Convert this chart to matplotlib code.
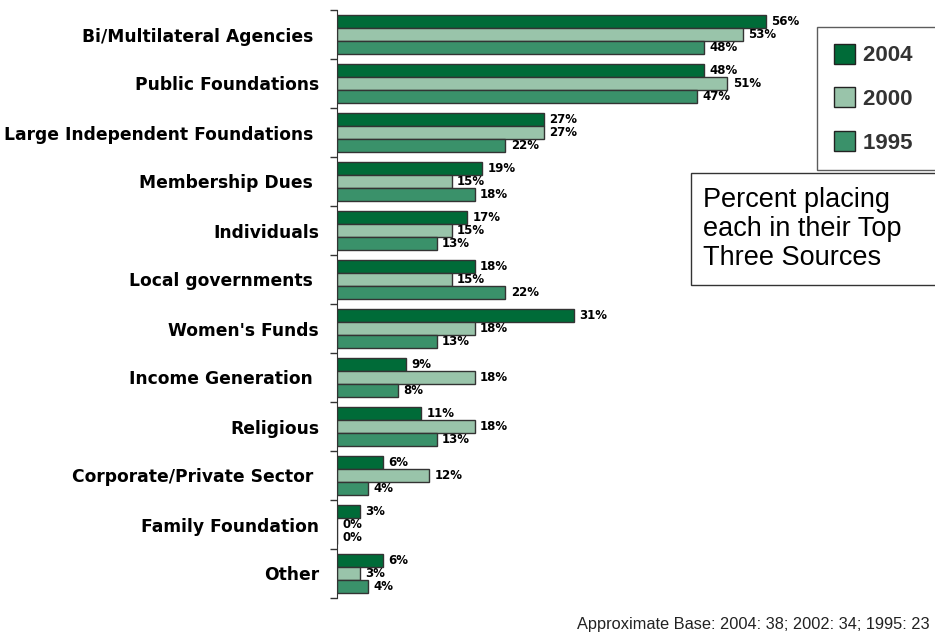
import matplotlib.pyplot as plt
from matplotlib.patches import Patch, Rectangle

plt.rcParams['font.family'] = ['Liberation Sans', 'DejaVu Sans']

categories = ["Bi/Multilateral Agencies ", "Public Foundations", "Large Independent Foundations ",
              "Membership Dues ", "Individuals", "Local governments ", "Women's Funds",
              "Income Generation ", "Religious", "Corporate/Private Sector ",
              "Family Foundation", "Other"]
years = ["2004", "2000", "1995"]
v2004 = [56, 48, 27, 19, 17, 18, 31, 9, 11, 6, 3, 6]
v2000 = [53, 51, 27, 15, 15, 15, 18, 18, 18, 12, 0, 3]
v1995 = [48, 47, 22, 18, 13, 22, 13, 8, 13, 4, 0, 4]
colors = ["#006B38", "#99C4AA", "#3A916A"]
footnote = "Approximate Base: 2004: 38; 2002: 34; 1995: 23"
note = "Percent placing\neach in their Top\nThree Sources"

W, H = 935, 643
fig = plt.figure(figsize=(W / 100, H / 100), dpi=100)
ax = fig.add_axes([337 / W, (H - 598) / H, 597 / W, 588 / H])

bh = 0.27
series = [v2004, v2000, v1995]
for j, vals in enumerate(series):
    ys = [i + (j - 1) * bh for i in range(len(categories))]
    ax.barh(ys, vals, height=bh, color=colors[j], edgecolor="#333333", linewidth=1.0)
    for y, v in zip(ys, vals):
        ax.text(v + 0.7, y, f"{v}%", va="center", ha="left", fontsize=8.5,
                fontweight="bold", family="DejaVu Sans")

ax.set_xlim(0, 78)
ax.set_ylim(len(categories) - 0.5, -0.5)
ax.set_yticks(range(len(categories)))
ax.set_yticklabels(categories, fontsize=12.3, fontweight="bold", family="DejaVu Sans")
ax.tick_params(axis="y", which="major", length=0, pad=13)
ax.set_yticks([i - 0.5 for i in range(len(categories) + 1)], minor=True)
ax.tick_params(axis="y", which="minor", length=5, width=1, color="#333333")
ax.set_xticks([])
for s in ["top", "right", "bottom"]:
    ax.spines[s].set_visible(False)
ax.spines["left"].set_color("#333333")

handles = [Patch(facecolor=c, edgecolor="#222222", label=y + "    ") for c, y in zip(colors, years)]
leg = fig.legend(handles=handles, loc="upper left", bbox_to_anchor=(817 / W, 1 - 27 / H),
                 fontsize=16, frameon=True, fancybox=False, edgecolor="#333333",
                 handlelength=0.95, handleheight=1.0, handletextpad=0.35,
                 labelspacing=0.95, borderpad=0.75, borderaxespad=0)
leg.get_frame().set_linewidth(1)
for t in leg.get_texts():
    t.set_fontweight("bold")
    t.set_color("#333333")

# note box runs off the right edge, as in the original slide
fig.add_artist(Rectangle((691 / W, 1 - 285 / H), 260 / W, 112 / H, transform=fig.transFigure,
                         facecolor="white", edgecolor="#333333", linewidth=1))
fig.text(703 / W, 1 - 229 / H, note, fontsize=19.5, va="center", ha="left", linespacing=1.15)

fig.text(930 / W, 1 - 625 / H, footnote, fontsize=11.8, ha="right", va="center", color="#222222")

plt.savefig("out.png", dpi=100)
